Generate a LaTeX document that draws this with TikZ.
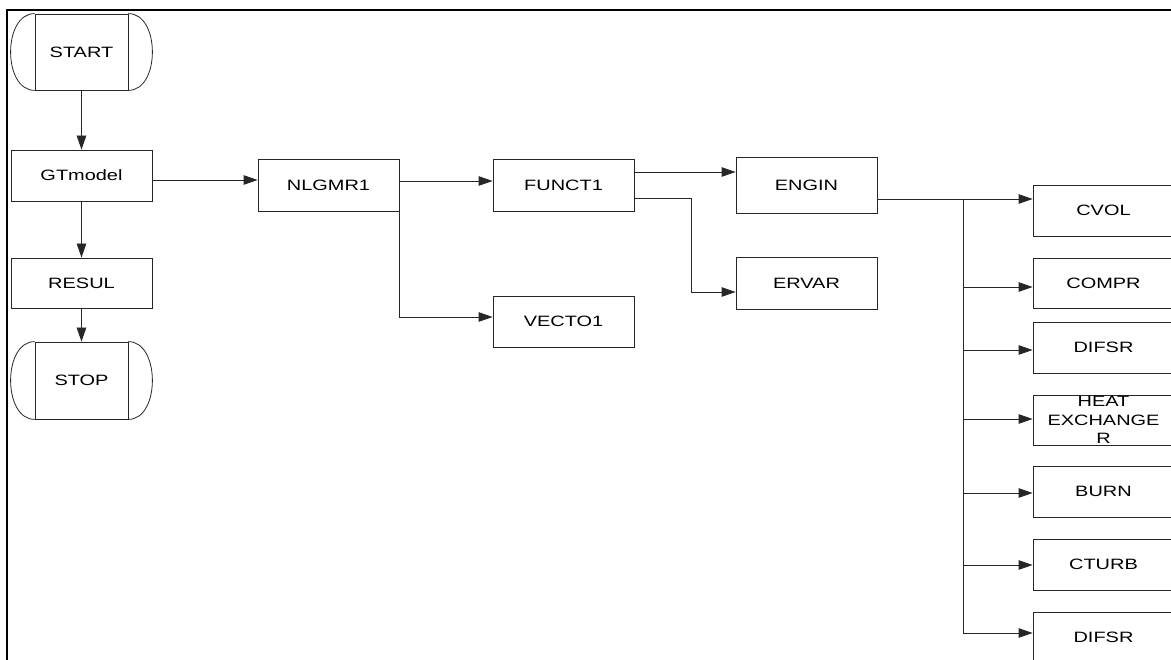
\documentclass[tikz,border=0pt]{standalone}
\usepackage{fontspec}
\newfontfamily\lab{Liberation Sans}[FakeStretch=1.33]
\usetikzlibrary{arrows.meta}
\tikzset{
  box/.style={draw=black!85, line width=0.8pt, rectangle, inner sep=0pt,
    minimum width=141pt, minimum height=51pt, font=\lab\fontsize{15}{18}\selectfont},
  term/.style={box, minimum width=93pt, minimum height=76pt},
  conn/.style={draw=black!85, line width=0.8pt},
  arr/.style={conn, -{Triangle[length=14pt,width=9.5pt]}},
}
\begin{document}
\begin{tikzpicture}[x=1pt,y=-1pt]
\useasboundingbox (0,0) rectangle (1171,660);
% frame
\draw[line width=2pt] (7,662) -- (7,10) -- (1174,10);

% left column
\node[term] (start) at (81.5,52) {START};
\draw[conn] (start.north west) .. controls +(-32,0) and +(-32,0) .. (start.south west);
\draw[conn] (start.north east) .. controls +(32,0) and +(32,0) .. (start.south east);
\node[box] (gt) at (81.5,175.5) {GTmodel};
\node[box, minimum height=50pt] (resul) at (81.5,283) {RESUL};
\node[term, minimum height=77pt] (stop) at (81.5,380.5) {STOP};
\draw[conn] (stop.north west) .. controls +(-32,0) and +(-32,0) .. (stop.south west);
\draw[conn] (stop.north east) .. controls +(32,0) and +(32,0) .. (stop.south east);

\draw[arr] (start.south) -- (gt.north);
\draw[arr] (gt.south) -- (resul.north);
\draw[arr] (resul.south) -- (stop.north);

% middle
\node[box, minimum height=52pt] (nlg) at (328.5,185) {NLGMR1};
\node[box, minimum height=52pt] (funct) at (563.5,185) {FUNCT1};
\node[box] (vecto) at (563.5,321.5) {VECTO1};
\node[box, minimum height=56pt] (engin) at (806.5,185) {ENGIN};
\node[box, minimum height=52pt] (ervar) at (806.5,283) {ERVAR};

\draw[arr] (gt.east |- 0,180) -- (nlg.west |- 0,180);
\draw[arr] (nlg.east |- 0,181) -- (funct.west |- 0,181);
\draw[arr] (nlg.south east) -- (nlg.east |- 0,317) -- (vecto.west |- 0,317);
\draw[arr] (funct.east |- 0,172) -- (engin.west |- 0,172);
\coordinate (fe) at (691,198);
\draw[arr] (funct.east |- fe) -- (fe) -- (691,292) -- (ervar.west |- 0,292);

% right column
\node[box] (cvol) at (1103.5,210.5) {CVOL};
\node[box, minimum height=50pt] (compr) at (1103.5,283) {COMPR};
\node[box] (difsr) at (1103.5,347.5) {DIFSR};
\node[box, minimum height=50pt,
  label={[align=center, inner sep=0pt, font=\lab\fontsize{15}{18.5}\selectfont]center:HEAT\\EXCHANGE\\R}] (heat) at (1103.5,420) {};
\node[box] (burn) at (1103.5,491.5) {BURN};
\node[box] (cturb) at (1103.5,564.5) {CTURB};
\node[box] (difsr2) at (1103.5,637.5) {DIFSR};

\coordinate (bt) at (963,199);
\coordinate (bb) at (963,633);
\draw[arr] (engin.east |- bt) -- (cvol.west |- bt);
\draw[conn] (bt) -- (bb);
\draw[arr] (963,287) -- (compr.west |- 0,287);
\draw[arr] (963,350) -- (difsr.west |- 0,350);
\draw[arr] (963,419) -- (heat.west |- 0,419);
\draw[arr] (963,493) -- (burn.west |- 0,493);
\draw[arr] (963,565) -- (cturb.west |- 0,565);
\draw[arr] (bb) -- (difsr2.west |- bb);
\end{tikzpicture}
\end{document}
